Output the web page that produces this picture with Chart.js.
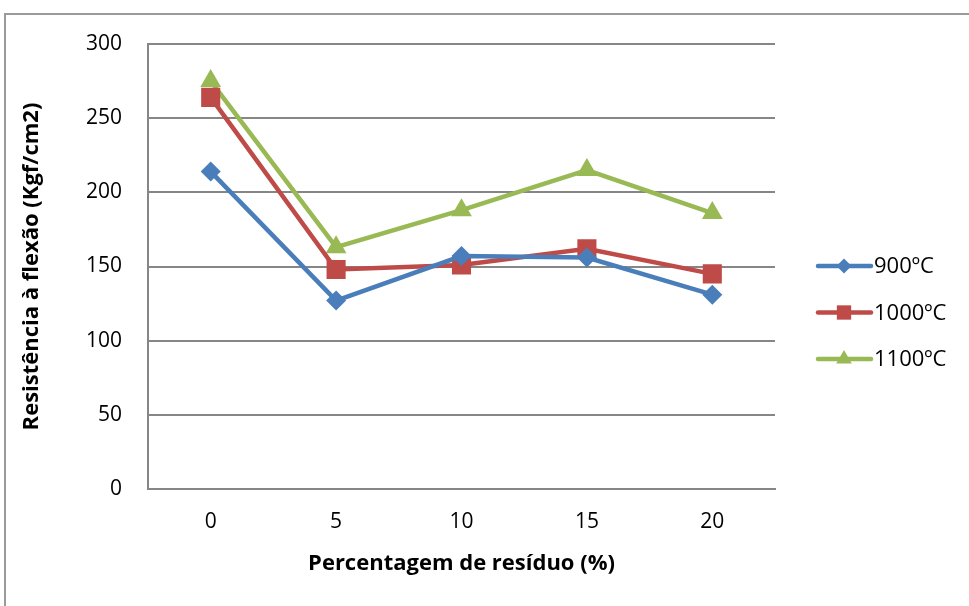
<!DOCTYPE html>
<html>
<head>
<meta charset="utf-8">
<script src="https://cdn.jsdelivr.net/npm/chart.js@4.4.0/dist/chart.umd.min.js"></script>
<style>
  html, body { margin: 0; padding: 0; background: #fff; }
  #frame { position: absolute; left: 4px; top: 13px; width: 980px; height: 620px; border: 2px solid #9a9a9a; box-sizing: border-box; }
  #wrap { position: absolute; left: 0; top: 0; width: 969px; height: 606px; }
</style>
</head>
<body>
<div id="frame"></div>
<div id="wrap"><canvas id="chart"></canvas></div>
<script>
const categories = ['0', '5', '10', '15', '20'];
const series900 = [214, 127, 157, 156, 131];
const series1000 = [264, 148, 151, 162, 145];
const series1100 = [275, 163, 188, 215, 186];
const seriesNames = ['900ºC', '1000ºC', '1100ºC'];
const yTicks = [0, 50, 100, 150, 200, 250, 300];

const FONT = "'Open Sans', sans-serif";

// legend drawn as line + marker, like the spreadsheet original
const lineLegend = {
  id: 'lineLegend',
  afterDraw(chart) {
    const ctx = chart.ctx;
    chart.data.datasets.forEach((ds, i) => {
      const y = 266 + i * 46.5;
      ctx.save();
      ctx.strokeStyle = ds.borderColor;
      ctx.lineWidth = 4.5;
      ctx.lineCap = 'round';
      ctx.beginPath();
      ctx.moveTo(818, y);
      ctx.lineTo(871, y);
      ctx.stroke();
      ctx.fillStyle = ds.pointBackgroundColor;
      ctx.strokeStyle = ds.pointBackgroundColor;
      Chart.helpers.drawPoint(ctx, {
        pointStyle: ds.pointStyle, radius: ds.pointRadius * 0.75, borderWidth: 0, rotation: 0
      }, 844, y);
      ctx.fillStyle = '#000';
      ctx.font = '22px ' + FONT;
      ctx.textBaseline = 'middle';
      ctx.fillText(ds.label, 874, y + 1);
      ctx.restore();
    });
  }
};

function makeSet(label, data, color, style, radius) {
  return {
    label: label,
    data: data,
    borderColor: color,
    backgroundColor: color,
    pointBackgroundColor: color,
    pointBorderColor: color,
    pointBorderWidth: 0,
    pointStyle: style,
    pointRadius: radius,
    pointHoverRadius: radius,
    borderWidth: 4.5,
    tension: 0,
    fill: false
  };
}

new Chart(document.getElementById('chart'), {
  type: 'line',
  data: {
    labels: categories,
    datasets: [
      makeSet(seriesNames[0], series900, '#4a7ebb', 'rectRot', 10),
      makeSet(seriesNames[1], series1000, '#be4b48', 'rect', 13.5),
      makeSet(seriesNames[2], series1100, '#98b954', 'triangle', 12)
    ]
  },
  plugins: [lineLegend],
  options: {
    responsive: true,
    maintainAspectRatio: false,
    animation: false,
    layout: { padding: { left: 0, top: 44, right: 194, bottom: 0 } },
    plugins: {
      legend: { display: false },
      tooltip: { enabled: false }
    },
    scales: {
      x: {
        offset: true,
        grid: { display: false, drawTicks: false },
        border: { display: true, color: '#868686', width: 2 },
        ticks: { color: '#000', font: { family: FONT, size: 21 }, padding: 20 },
        title: {
          display: true,
          text: 'Percentagem de resíduo (%)',
          color: '#000',
          font: { family: FONT, size: 22, weight: 'bold' },
          padding: { top: 0, bottom: 29 }
        },
        afterFit: s => { s.height = 606 - 489; }
      },
      y: {
        min: 0,
        max: 300,
        afterBuildTicks: s => { s.ticks = yTicks.map(v => ({ value: v })); },
        grid: { color: '#868686', lineWidth: 2, drawTicks: false },
        border: { display: true, color: '#868686', width: 2 },
        ticks: { color: '#000', font: { family: FONT, size: 21 }, padding: 26 },
        title: {
          display: true,
          text: 'Resistência à flexão (Kgf/cm2)',
          color: '#000',
          font: { family: FONT, size: 22, weight: 'bold' },
          padding: { top: 19, bottom: 0 }
        },
        afterFit: s => { s.width = 148; }
      }
    }
  }
});
</script>
</body>
</html>
